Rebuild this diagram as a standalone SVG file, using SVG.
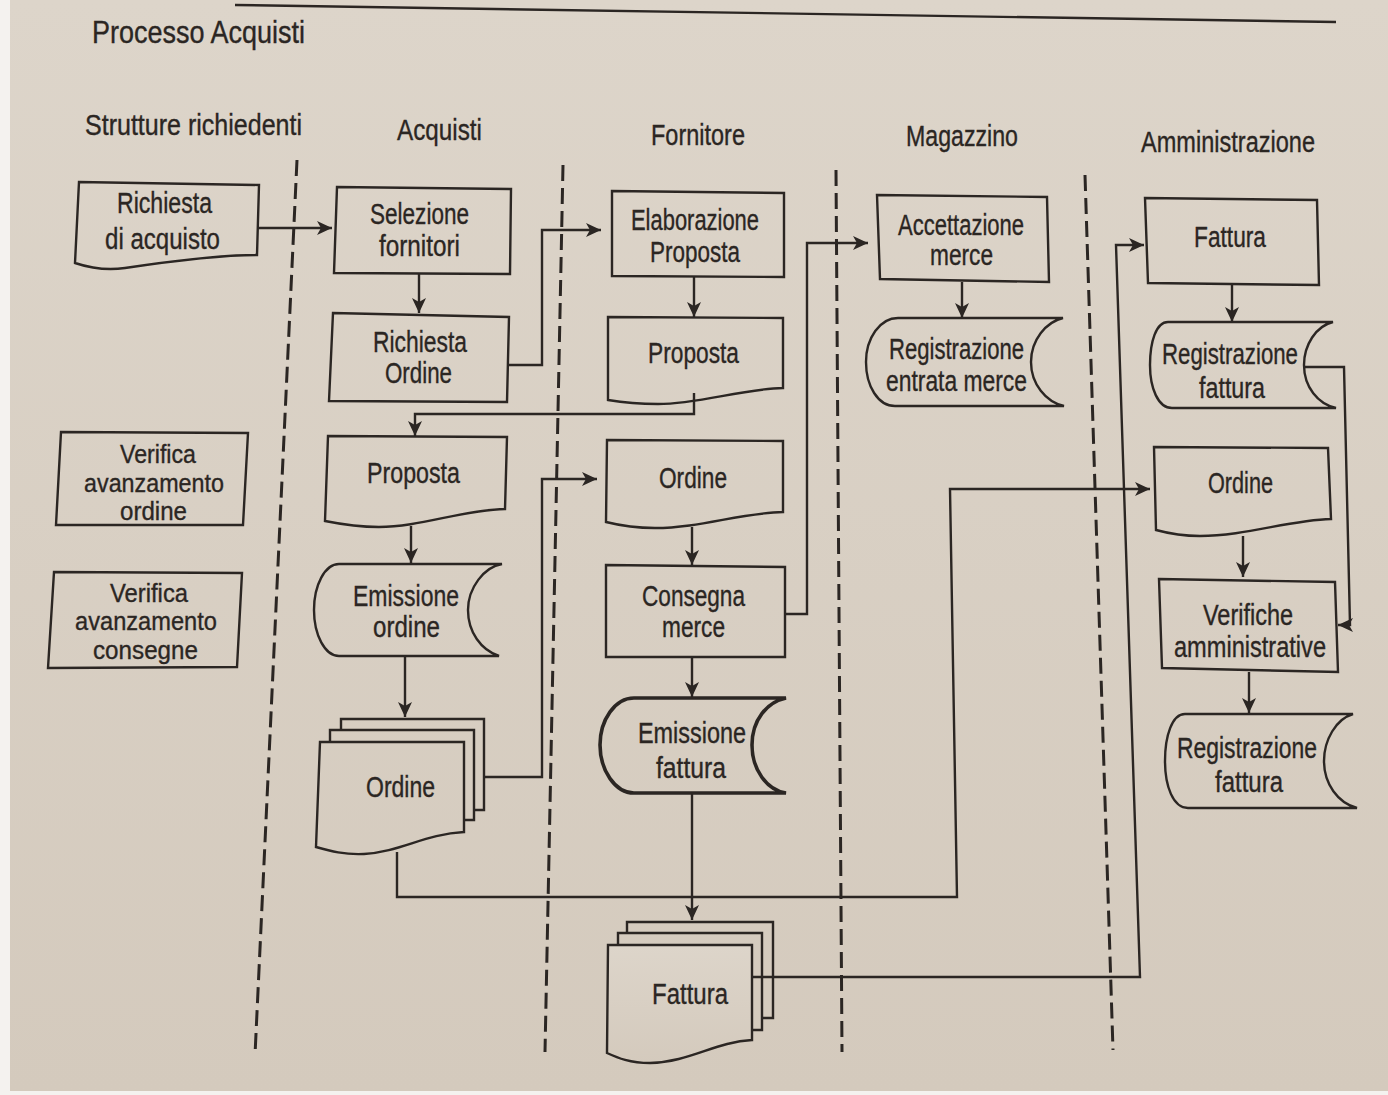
<svg xmlns="http://www.w3.org/2000/svg" width="1388" height="1095" viewBox="0 0 1388 1095">
<defs>
<linearGradient id="bg" x1="0" y1="0" x2="0" y2="1">
<stop offset="0" stop-color="#ddd5ca"/>
<stop offset="1" stop-color="#d4cabd"/>
</linearGradient>
<marker id="ah" markerUnits="userSpaceOnUse" markerWidth="16" markerHeight="14" refX="15" refY="7" orient="auto">
<path d="M0,0 L15,7 L0,14 L4,7 Z" fill="#2b2623"/>
</marker>
<style>
.n{fill:none;stroke:#2b2623;stroke-width:2.4;stroke-linejoin:miter}
.f{fill:url(#bg);stroke:#2b2623;stroke-width:2.4}
.bold{stroke-width:3.6}
.lane{fill:none;stroke:#2b2623;stroke-width:3;stroke-dasharray:16 7}
.c{fill:none;stroke:#2b2623;stroke-width:2.4;marker-end:url(#ah)}
.c0{fill:none;stroke:#2b2623;stroke-width:2.4}
text{font-family:"Liberation Sans",Arial,sans-serif;fill:#2b2623;stroke:#2b2623;stroke-width:0.35}
.t{font-size:29px}
.s{font-size:26px}
.h{font-size:29px}
.ti{font-size:32px}
</style>
</defs>
<rect x="0" y="0" width="1388" height="1095" fill="#f4f2ef"/>
<rect x="10" y="0" width="1378" height="1091" fill="url(#bg)"/>

<g id="frame">
<path d="M235,5 L1336,22" class="c0"/>
<text class="ti" x="92" y="43" textLength="213" lengthAdjust="spacingAndGlyphs">Processo Acquisti</text>
</g>

<g id="headers">
<text class="h" x="85" y="135" textLength="217" lengthAdjust="spacingAndGlyphs">Strutture richiedenti</text>
<text class="h" x="397" y="140" textLength="85" lengthAdjust="spacingAndGlyphs">Acquisti</text>
<text class="h" x="651" y="145" textLength="94" lengthAdjust="spacingAndGlyphs">Fornitore</text>
<text class="h" x="906" y="146" textLength="112" lengthAdjust="spacingAndGlyphs">Magazzino</text>
<text class="h" x="1141" y="152" textLength="174" lengthAdjust="spacingAndGlyphs">Amministrazione</text>
</g>

<g id="lanes">
<path class="lane" d="M297,160 L255,1055"/>
<path class="lane" d="M563,165 L545,1052"/>
<path class="lane" d="M836,170 L842,1052"/>
<path class="lane" d="M1085,175 L1113,1050"/>
</g>

<g id="connectors">
<path class="c" d="M258,228 H332"/>
<path class="c" d="M419,274 V313"/>
<path class="c" d="M508,365 H542 V230 H601"/>
<path class="c" d="M694,277 V317"/>
<path class="c" d="M694,393 V414 H415 V436"/>
<path class="c" d="M411,526 V563"/>
<path class="c" d="M405,656 V717"/>
<path class="c" d="M485,777 H542 V479 H597"/>
<path class="c" d="M397,852 V897 H957 L950,489 H1150"/>
<path class="c" d="M692,527 V565"/>
<path class="c" d="M785,614 H807 V243 H868"/>
<path class="c" d="M692,657 V697"/>
<path class="c" d="M692,793 V920"/>
<path class="c" d="M752,977 H1140 L1116,245 H1144"/>
<path class="c" d="M962,282 V318"/>
<path class="c" d="M1232,285 V322"/>
<path class="c" d="M1304,367 H1344 L1350,625 H1338"/>
<path class="c" d="M1243,536 V577"/>
<path class="c" d="M1249,672 V713"/>
</g>

<g id="richiesta-acquisto">
<path class="n" d="M79,182 L259,185 L257,255 C215,255 165,262 125,268 C105,271 90,268 75,263 Z"/>
<text class="t" x="117" y="213" textLength="95" lengthAdjust="spacingAndGlyphs">Richiesta</text>
<text class="t" x="105" y="249" textLength="115" lengthAdjust="spacingAndGlyphs">di acquisto</text>
</g>

<g id="verifica-ordine">
<path class="n" d="M61,432 L248,433 L243,525 L56,525 Z"/>
<text class="s" x="120" y="463" textLength="76" lengthAdjust="spacingAndGlyphs">Verifica</text>
<text class="s" x="84" y="492" textLength="140" lengthAdjust="spacingAndGlyphs">avanzamento</text>
<text class="s" x="120" y="520" textLength="67" lengthAdjust="spacingAndGlyphs">ordine</text>
</g>

<g id="verifica-consegne">
<path class="n" d="M54,572 L242,573 L237,667 L48,668 Z"/>
<text class="s" x="110" y="602" textLength="78" lengthAdjust="spacingAndGlyphs">Verifica</text>
<text class="s" x="75" y="630" textLength="142" lengthAdjust="spacingAndGlyphs">avanzamento</text>
<text class="s" x="93" y="659" textLength="105" lengthAdjust="spacingAndGlyphs">consegne</text>
</g>

<g id="selezione-fornitori">
<path class="n" d="M337,187 L511,189 L510,274 L334,273 Z"/>
<text class="t" x="370" y="224" textLength="99" lengthAdjust="spacingAndGlyphs">Selezione</text>
<text class="t" x="379" y="256" textLength="81" lengthAdjust="spacingAndGlyphs">fornitori</text>
</g>

<g id="richiesta-ordine">
<path class="n" d="M333,313 L509,317 L507,402 L329,401 Z"/>
<text class="t" x="373" y="352" textLength="94" lengthAdjust="spacingAndGlyphs">Richiesta</text>
<text class="t" x="385" y="383" textLength="67" lengthAdjust="spacingAndGlyphs">Ordine</text>
</g>

<g id="proposta-acquisti">
<path class="n" d="M328,436 L507,437 L505,509 C462,510 420,527 379,527 C356,527 340,524 325,521 Z"/>
<text class="t" x="367" y="483" textLength="93" lengthAdjust="spacingAndGlyphs">Proposta</text>
</g>

<g id="emissione-ordine">
<path class="n" d="M339,564 H502 C484,567 468,588 468,610 C468,632 481,650 499,656 H339 C325,656 314,635 314,610 C314,585 325,564 339,564 Z"/>
<text class="t" x="353" y="606" textLength="106" lengthAdjust="spacingAndGlyphs">Emissione</text>
<text class="t" x="373" y="637" textLength="67" lengthAdjust="spacingAndGlyphs">ordine</text>
</g>

<g id="ordine-acquisti">
<path class="n" d="M341,730 V719 H484 V810 H474"/>
<path class="n" d="M330,742 V730 H474 V820 H464"/>
<path class="n" d="M320,742 H464 V832 C425,834 400,852 364,854 C345,855 330,851 316,847 Z"/>
<text class="t" x="366" y="797" textLength="69" lengthAdjust="spacingAndGlyphs">Ordine</text>
</g>

<g id="elaborazione-proposta">
<path class="n" d="M612,191 L784,193 L784,277 L612,276 Z"/>
<text class="t" x="631" y="230" textLength="128" lengthAdjust="spacingAndGlyphs">Elaborazione</text>
<text class="t" x="650" y="262" textLength="90" lengthAdjust="spacingAndGlyphs">Proposta</text>
</g>

<g id="proposta-fornitore">
<path class="n" d="M608,317 L783,318 L783,388 C740,389 700,404 658,404 C635,404 620,402 608,400 Z"/>
<text class="t" x="648" y="363" textLength="91" lengthAdjust="spacingAndGlyphs">Proposta</text>
</g>

<g id="ordine-fornitore">
<path class="n" d="M607,440 L783,441 L783,512 C740,513 700,528 655,528 C632,528 618,525 606,522 Z"/>
<text class="t" x="659" y="488" textLength="68" lengthAdjust="spacingAndGlyphs">Ordine</text>
</g>

<g id="consegna-merce">
<path class="n" d="M606,565 L785,567 L785,657 L606,657 Z"/>
<text class="t" x="642" y="606" textLength="103" lengthAdjust="spacingAndGlyphs">Consegna</text>
<text class="t" x="662" y="637" textLength="63" lengthAdjust="spacingAndGlyphs">merce</text>
</g>

<g id="emissione-fattura">
<path class="n bold" d="M634,698 H786 C767,702 752,720 752,745 C752,770 767,790 786,793 H634 C615,793 600,770 600,745 C600,720 615,698 634,698 Z"/>
<text class="t" x="638" y="743" textLength="108" lengthAdjust="spacingAndGlyphs">Emissione</text>
<text class="t" x="656" y="778" textLength="70" lengthAdjust="spacingAndGlyphs">fattura</text>
</g>

<g id="fattura-fornitore">
<path class="n" d="M627,933 V922 H773 V1018 H762"/>
<path class="n" d="M618,945 V933 H762 V1030 H752"/>
<path class="f" d="M608,945 H752 V1040 C715,1042 690,1062 650,1063 C630,1063 618,1058 607,1053 Z"/>
<text class="t" x="652" y="1004" textLength="76" lengthAdjust="spacingAndGlyphs">Fattura</text>
</g>

<g id="accettazione-merce">
<path class="n" d="M877,195 L1047,197 L1049,282 L880,279 Z"/>
<text class="t" x="898" y="235" textLength="126" lengthAdjust="spacingAndGlyphs">Accettazione</text>
<text class="t" x="930" y="265" textLength="63" lengthAdjust="spacingAndGlyphs">merce</text>
</g>

<g id="registrazione-entrata-merce">
<path class="n" d="M898,318 H1063 C1046,322 1031,340 1031,362 C1031,384 1046,402 1064,406 H895 C878,406 866,386 866,362 C866,338 880,318 898,318 Z"/>
<text class="t" x="889" y="359" textLength="135" lengthAdjust="spacingAndGlyphs">Registrazione</text>
<text class="t" x="886" y="391" textLength="141" lengthAdjust="spacingAndGlyphs">entrata merce</text>
</g>

<g id="fattura-amministrazione">
<path class="n" d="M1145,198 L1317,200 L1319,285 L1148,283 Z"/>
<text class="t" x="1194" y="247" textLength="72" lengthAdjust="spacingAndGlyphs">Fattura</text>
</g>

<g id="registrazione-fattura-1">
<path class="n" d="M1168,322 H1333 C1316,326 1304,345 1304,365 C1304,387 1318,404 1336,408 H1172 C1158,408 1150,388 1150,365 C1150,342 1156,322 1168,322 Z"/>
<text class="t" x="1162" y="364" textLength="136" lengthAdjust="spacingAndGlyphs">Registrazione</text>
<text class="t" x="1199" y="398" textLength="66" lengthAdjust="spacingAndGlyphs">fattura</text>
</g>

<g id="ordine-amministrazione">
<path class="n" d="M1154,447 L1328,448 L1331,519 C1290,520 1245,536 1200,536 C1180,536 1167,533 1156,530 Z"/>
<text class="t" x="1208" y="493" textLength="65" lengthAdjust="spacingAndGlyphs">Ordine</text>
</g>

<g id="verifiche-amministrative">
<path class="n" d="M1159,579 L1335,582 L1338,672 L1162,668 Z"/>
<text class="t" x="1203" y="625" textLength="90" lengthAdjust="spacingAndGlyphs">Verifiche</text>
<text class="t" x="1174" y="657" textLength="152" lengthAdjust="spacingAndGlyphs">amministrative</text>
</g>

<g id="registrazione-fattura-2">
<path class="n" d="M1185,714 H1353 C1336,719 1324,740 1324,761 C1324,784 1338,803 1357,808 H1188 C1173,808 1165,786 1165,761 C1165,736 1172,714 1185,714 Z"/>
<text class="t" x="1177" y="758" textLength="140" lengthAdjust="spacingAndGlyphs">Registrazione</text>
<text class="t" x="1215" y="792" textLength="68" lengthAdjust="spacingAndGlyphs">fattura</text>
</g>
</svg>
